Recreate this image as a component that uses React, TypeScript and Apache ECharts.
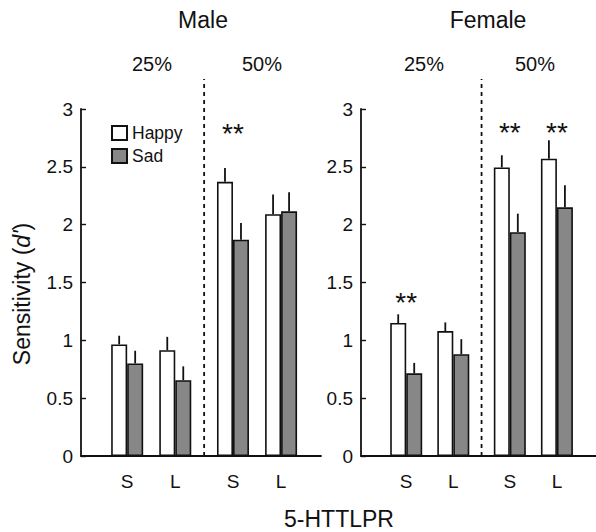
import React, { useEffect, useRef } from "react";
import * as echarts from "echarts";

// ---- data ----
const panels = ["Male", "Female"];
const conditions = ["25%", "50%"];
const genotypes = ["S", "L", "S", "L"]; // groups: 25%-S, 25%-L, 50%-S, 50%-L
const emotions = ["Happy", "Sad"];

const maleHappy = [0.965, 0.915, 2.37, 2.09];
const maleHappySE = [0.075, 0.115, 0.12, 0.17];
const maleSad = [0.8, 0.655, 1.87, 2.115];
const maleSadSE = [0.11, 0.12, 0.145, 0.165];

const femaleHappy = [1.15, 1.08, 2.495, 2.57];
const femaleHappySE = [0.075, 0.075, 0.105, 0.16];
const femaleSad = [0.715, 0.88, 1.935, 2.15];
const femaleSadSE = [0.09, 0.13, 0.16, 0.19];

const maleStars: (number | null)[] = [null, null, 2.84, null];
const femaleStars: (number | null)[] = [1.38, null, 2.85, 2.85];

const yMin = 0;
const yMax = 3;
const yInterval = 0.5;

// ---- layout ----
const FONT = "Liberation Sans, Arial, Helvetica, sans-serif";
const INK = "#111111";
const SAD_FILL = "#878787";
const BAR_W = 16;
const CONDITION_GAP = 0.2;
const groupPos = (i: number) => i + Math.floor(i / 2) * CONDITION_GAP;
const separatorPos = (groupPos(1) + groupPos(2)) / 2;

export default function App() {
  const ref = useRef<HTMLDivElement>(null);

  useEffect(() => {
    if (!ref.current) return;
    const chart = echarts.init(ref.current, undefined, { renderer: "svg" });

    const panelData = [
      { happy: maleHappy, happySE: maleHappySE, sad: maleSad, sadSE: maleSadSE, stars: maleStars },
      { happy: femaleHappy, happySE: femaleHappySE, sad: femaleSad, sadSE: femaleSadSE, stars: femaleStars },
    ];

    const grids = [
      { left: 81, top: 109, width: 240, height: 347 },
      { left: 361, top: 109, width: 240, height: 347 },
    ];

    const positions = genotypes.map((_, i) => groupPos(i));

    const xAxes = grids.map((_, gi) => ({
      type: "value",
      gridIndex: gi,
      min: -0.96,
      max: 4.03,
      splitLine: { show: false },
      axisLine: { show: true, onZero: false, lineStyle: { color: INK, width: 1.8 } },
      axisTick: { show: false },
      axisLabel: {
        customValues: positions,
        margin: 16,
        fontSize: 19,
        color: INK,
        fontFamily: FONT,
        formatter: (v: number) => {
          const idx = positions.findIndex((p) => Math.abs(p - v) < 1e-6);
          return idx >= 0 ? genotypes[idx] : "";
        },
      },
    }));

    const yAxes = grids.map((_, gi) => ({
      type: "value",
      gridIndex: gi,
      min: yMin,
      max: yMax,
      interval: yInterval,
      splitLine: { show: false },
      axisLine: { show: true, onZero: false, lineStyle: { color: INK, width: 1.8 } },
      axisTick: { show: true, inside: true, length: 5, lineStyle: { color: INK, width: 1.4 } },
      axisLabel: { fontSize: 19, color: INK, fontFamily: FONT, margin: 8 },
    }));

    const series: any[] = [];
    panelData.forEach((pd, gi) => {
      const bars = [
        { name: emotions[0], vals: pd.happy, se: pd.happySE, fill: "#ffffff", side: -1 },
        { name: emotions[1], vals: pd.sad, se: pd.sadSE, fill: SAD_FILL, side: 1 },
      ];
      bars.forEach((b) => {
        series.push({
          type: "bar",
          name: b.name,
          xAxisIndex: gi,
          yAxisIndex: gi,
          barWidth: BAR_W,
          barGap: "0%",
          itemStyle: { color: b.fill, borderColor: INK, borderWidth: 1.6 },
          data: b.vals.map((v, i) => [positions[i], v]),
          z: 2,
        });
      });
      bars.forEach((b) => {
        series.push({
          type: "custom",
          name: b.name + " error",
          xAxisIndex: gi,
          yAxisIndex: gi,
          z: 3,
          silent: true,
          data: b.vals.map((v, i) => [positions[i], v, v + b.se[i]]),
          renderItem: (params: any, api: any) => {
            const p0 = api.coord([api.value(0), api.value(1)]);
            const p1 = api.coord([api.value(0), api.value(2)]);
            const x = p0[0] + (b.side * BAR_W) / 2;
            return {
              type: "line",
              shape: { x1: x, y1: p0[1], x2: x, y2: p1[1] },
              style: { stroke: INK, lineWidth: 1.8 },
            };
          },
        });
      });
      // significance stars
      series.push({
        type: "custom",
        name: "stars" + gi,
        xAxisIndex: gi,
        yAxisIndex: gi,
        z: 4,
        silent: true,
        clip: false,
        data: pd.stars
          .map((s, i) => (s == null ? null : [positions[i], s]))
          .filter((d) => d != null),
        renderItem: (params: any, api: any) => {
          const p = api.coord([api.value(0), api.value(1)]);
          return {
            type: "text",
            x: p[0],
            y: p[1] + 6,
            style: {
              text: "**",
              font: "28px " + FONT,
              fill: INK,
              align: "center",
              verticalAlign: "middle",
            },
          };
        },
      });
      // dashed separator between conditions
      series.push({
        type: "custom",
        name: "separator" + gi,
        xAxisIndex: gi,
        yAxisIndex: gi,
        z: 1,
        silent: true,
        clip: false,
        data: [[separatorPos, yMin]],
        renderItem: (params: any, api: any) => {
          const p0 = api.coord([api.value(0), yMin]);
          const p1 = api.coord([api.value(0), yMax]);
          return {
            type: "line",
            shape: { x1: p0[0], y1: p0[1], x2: p0[0], y2: p1[1] - 30 },
            style: { stroke: INK, lineWidth: 1.8, lineDash: [4, 4] },
          };
        },
      });
    });

    const textEl = (text: string, x: number, y: number, size: number) => ({
      type: "text",
      x,
      y,
      style: {
        text,
        font: size + "px " + FONT,
        fill: INK,
        align: "center",
        verticalAlign: "middle",
      },
    });

    chart.setOption({
      animation: false,
      backgroundColor: "#ffffff",
      grid: grids,
      xAxis: xAxes,
      yAxis: yAxes,
      legend: {
        data: emotions,
        orient: "vertical",
        left: 106,
        top: 119,
        icon: "rect",
        itemWidth: 15,
        itemHeight: 14,
        itemGap: 5,
        selectedMode: false,
        textStyle: { fontSize: 17.5, color: INK, fontFamily: FONT },
      },
      graphic: [
        textEl(panels[0], 203, 20, 23),
        textEl(panels[1], 488, 20, 23),
        textEl(conditions[0], 152, 64, 20),
        textEl(conditions[1], 262, 64, 20),
        textEl(conditions[0], 424, 64, 20),
        textEl(conditions[1], 535, 64, 20),
        textEl("5-HTTLPR", 339, 519, 23),
        {
          type: "text",
          x: 22,
          y: 294,
          rotation: Math.PI / 2,
          style: {
            text: "Sensitivity ({i|d'})",
            font: "23px " + FONT,
            fill: INK,
            align: "center",
            verticalAlign: "middle",
            rich: { i: { fontStyle: "italic", fontSize: 23, fontFamily: FONT, fill: INK } },
          },
        },
      ],
      series,
    });

    return () => chart.dispose();
  }, []);

  return (
    <div
      ref={ref}
      style={{ position: "absolute", left: 0, top: 0, width: 596, height: 532 }}
    />
  );
}
